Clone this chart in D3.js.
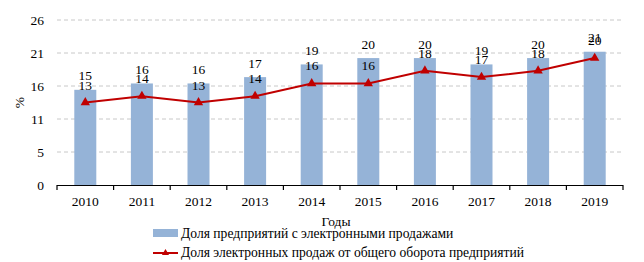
<!DOCTYPE html>
<html>
<head>
<meta charset="utf-8">
<script src="https://cdn.jsdelivr.net/npm/d3@7"></script>
<style>
  html, body { margin: 0; padding: 0; background: #fff; }
</style>
</head>
<body>
<div id="chart"></div>
<script>
// --- data
const years = ["2010","2011","2012","2013","2014","2015","2016","2017","2018","2019"];
const shareEnterprises = [15, 16, 16, 17, 19, 20, 20, 19, 20, 21];   // bars
const shareTurnover = [13, 14, 13, 14, 16, 16, 18, 17, 18, 20];      // line
const yTickValues = [0, 5.2, 10.4, 15.6, 20.8, 26];
const yTickLabels = ["0", "5", "11", "16", "21", "26"];
const seriesNames = [
  "Доля предприятий с электронными продажами",
  "Доля электронных продаж от общего оборота предприятий"
];
const xTitle = "Годы";
const yTitle = "%";

const W = 644, H = 262;
const margin = {top: 20, right: 21, bottom: 77, left: 57};
const barColor = "#95b3d7";
const lineColor = "#c00000";
const FONT = "'Liberation Serif', 'Times New Roman', Times, 'DejaVu Serif', serif";

const svg = d3.select("#chart").append("svg")
  .attr("width", W).attr("height", H)
  .attr("font-family", FONT)
  .style("font-family", FONT);

const x = d3.scaleBand().domain(years)
  .range([margin.left, W - margin.right]).paddingInner(0).paddingOuter(0);
const y = d3.scaleLinear().domain([0, 26]).range([H - margin.bottom, margin.top]);
const barW = 22;

function txt(sel, size) {
  return sel.style("font-family", FONT).style("font-size", (size || 13) + "px").attr("fill", "#000");
}

// gridlines (dashed)
svg.append("g")
  .selectAll("line")
  .data(yTickValues.slice(1))
  .join("line")
  .attr("x1", margin.left).attr("x2", W - margin.right)
  .attr("y1", d => y(d)).attr("y2", d => y(d))
  .attr("stroke", "#c8c8c8").attr("stroke-width", 1)
  .attr("stroke-dasharray", "4,3");

// y axis labels only
const yAxis = svg.append("g")
  .attr("transform", `translate(${margin.left},0)`)
  .call(d3.axisLeft(y).tickValues(yTickValues)
    .tickFormat((d, i) => yTickLabels[i]).tickSize(0).tickPadding(13));
yAxis.attr("font-family", null);
yAxis.select(".domain").remove();
txt(yAxis.selectAll("text"), 13.5);

// bars
svg.append("g")
  .selectAll("rect")
  .data(years)
  .join("rect")
  .attr("x", d => x(d) + x.bandwidth() / 2 - barW / 2)
  .attr("width", barW)
  .attr("y", (d, i) => y(shareEnterprises[i]))
  .attr("height", (d, i) => y(0) - y(shareEnterprises[i]))
  .attr("fill", barColor);

// x axis
const xAxisG = svg.append("g").attr("transform", `translate(0,${y(0)})`);
xAxisG.append("line")
  .attr("x1", margin.left).attr("x2", W - margin.right)
  .attr("y1", 0.5).attr("y2", 0.5)
  .attr("stroke", "#000").attr("stroke-width", 1.2);
const boundaries = years.map(d => x(d)).concat([x(years[years.length - 1]) + x.bandwidth()]);
xAxisG.selectAll("line.tick")
  .data(boundaries)
  .join("line")
  .attr("class", "tick")
  .attr("x1", d => d).attr("x2", d => d)
  .attr("y1", 0).attr("y2", 5)
  .attr("stroke", "#000").attr("stroke-width", 1.2);
txt(xAxisG.selectAll("text")
  .data(years)
  .join("text")
  .attr("x", d => x(d) + x.bandwidth() / 2)
  .attr("y", 21)
  .attr("text-anchor", "middle")
  .text(d => d), 13.5);

// line + triangles
const cx = d => x(d) + x.bandwidth() / 2;
const line = d3.line()
  .x(d => cx(d))
  .y((d, i) => y(shareTurnover[i]));
svg.append("path")
  .datum(years)
  .attr("fill", "none")
  .attr("stroke", lineColor)
  .attr("stroke-width", 2)
  .attr("d", line);

const tri = d3.symbol().type(d3.symbolTriangle).size(38);
svg.append("g")
  .selectAll("path")
  .data(years)
  .join("path")
  .attr("d", tri)
  .attr("transform", (d, i) => `translate(${cx(d)},${y(shareTurnover[i])})`)
  .attr("fill", lineColor);

// data labels
txt(svg.append("g")
  .selectAll("text")
  .data(years)
  .join("text")
  .attr("x", d => cx(d))
  .attr("y", (d, i) => y(shareEnterprises[i]) - 9.5)
  .attr("text-anchor", "middle")
  .text((d, i) => shareEnterprises[i]), 13.5);

txt(svg.append("g")
  .selectAll("text")
  .data(years)
  .join("text")
  .attr("x", d => cx(d))
  .attr("y", (d, i) => y(shareTurnover[i]) - 13)
  .attr("text-anchor", "middle")
  .text((d, i) => shareTurnover[i]), 13.5);

// axis titles
txt(svg.append("text")
  .attr("transform", `translate(24,${y(13)}) rotate(-90)`)
  .attr("text-anchor", "middle")
  .text(yTitle), 13.5);

txt(svg.append("text")
  .attr("x", 336).attr("y", 226)
  .attr("text-anchor", "middle")
  .text(xTitle), 13.5);

// legend
const leg = svg.append("g");
leg.append("rect")
  .attr("x", 153).attr("y", 229).attr("width", 25).attr("height", 8)
  .attr("fill", barColor);
leg.append("line")
  .attr("x1", 153).attr("x2", 178).attr("y1", 253).attr("y2", 253)
  .attr("stroke", lineColor).attr("stroke-width", 2);
leg.append("path")
  .attr("d", d3.symbol().type(d3.symbolTriangle).size(22))
  .attr("transform", "translate(165.5,253)")
  .attr("fill", lineColor);
txt(leg.selectAll("text.lg")
  .data(seriesNames)
  .join("text")
  .attr("class", "lg")
  .attr("x", 181)
  .attr("y", (d, i) => 237.5 + i * 19)
  .text(d => d), 13.6);
</script>
</body>
</html>
